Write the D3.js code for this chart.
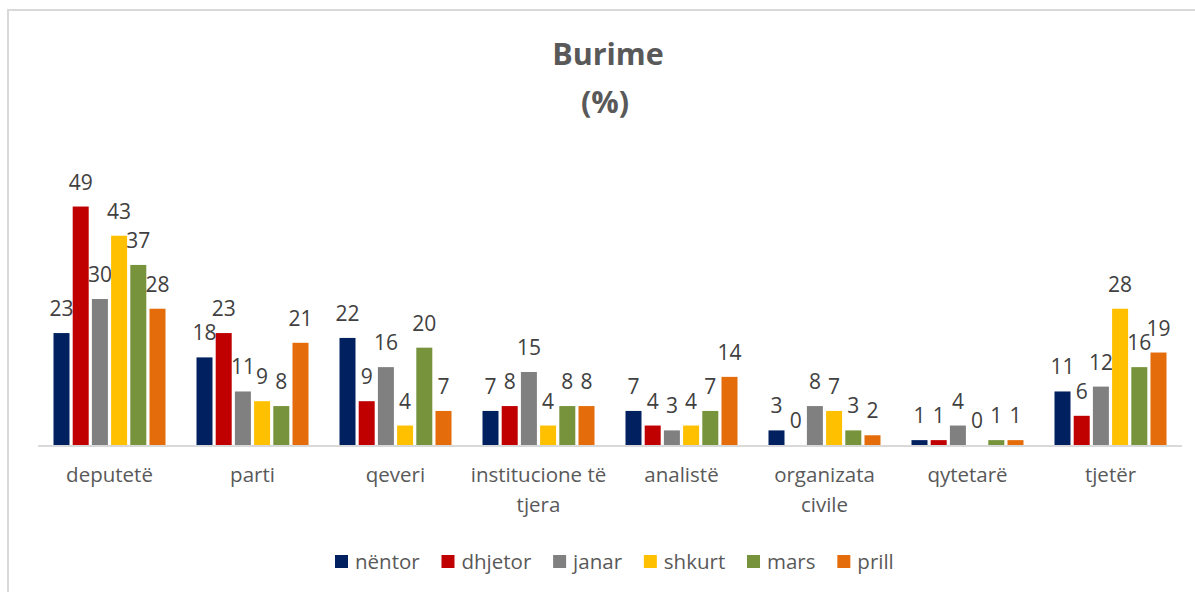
<!DOCTYPE html>
<html>
<head>
<meta charset="utf-8">
<script src="https://cdn.jsdelivr.net/npm/d3@7"></script>
<style>
  html, body { margin: 0; padding: 0; background: #fff; }
  svg { display: block; }
  text { font-family: "Open Sans", sans-serif; }
</style>
</head>
<body>
<svg id="chart" width="1195" height="592"></svg>
<script>
const categories = ["deputetë", "parti", "qeveri", "institucione të tjera", "analistë", "organizata civile", "qytetarë", "tjetër"];
const categoryLines = [["deputetë"], ["parti"], ["qeveri"], ["institucione të", "tjera"], ["analistë"], ["organizata", "civile"], ["qytetarë"], ["tjetër"]];
const seriesNames = ["nëntor", "dhjetor", "janar", "shkurt", "mars", "prill"];
const seriesColors = ["#002060", "#C00000", "#808080", "#FFC000", "#77933C", "#E46C0A"];
const nentor  = [23, 18, 22, 7, 7, 3, 1, 11];
const dhjetor = [49, 23, 9, 8, 4, 0, 1, 6];
const janar   = [30, 11, 16, 15, 3, 8, 4, 12];
const shkurt  = [43, 9, 4, 4, 4, 7, 0, 28];
const mars    = [37, 8, 20, 8, 7, 3, 1, 16];
const prill   = [28, 21, 7, 8, 14, 2, 1, 19];
const seriesValues = [nentor, dhjetor, janar, shkurt, mars, prill];

(function() {
const svg = d3.select("#chart");

// outer border
svg.append("rect").attr("x", 8).attr("y", 10).attr("width", 1300).attr("height", 700)
  .attr("fill", "none").attr("stroke", "#D9D9D9").attr("stroke-width", 2);

// title
const title = svg.append("text").attr("text-anchor", "middle").attr("fill", "#595959")
  .attr("font-weight", "bold").attr("font-size", 30.5);
title.append("tspan").attr("x", 608).attr("y", 65).text("Burime");
title.append("tspan").attr("x", 605).attr("y", 113).text("(%)");

const plotLeft = 38, plotRight = 1182, base = 445, plotTop = 153;
const x0 = d3.scaleBand().domain(categories).range([plotLeft, plotRight]).padding(0);
const groupW = 112;
const x1 = d3.scaleBand().domain(seriesNames).range([0, groupW]).paddingInner(0.1667).paddingOuter(0);
const y = d3.scaleLinear().domain([0, 60]).range([base, plotTop]);
const off = (x0.bandwidth() - groupW) / 2;

const groups = svg.append("g").selectAll("g").data(categories).join("g")
  .attr("transform", c => `translate(${x0(c) + off},0)`);

groups.each(function(c, ci) {
  const g = d3.select(this);
  seriesNames.forEach((s, si) => {
    const v = seriesValues[si][ci];
    g.append("rect")
      .attr("x", x1(s)).attr("width", x1.bandwidth())
      .attr("y", y(v)).attr("height", base - y(v))
      .attr("fill", seriesColors[si]);
    g.append("text")
      .attr("x", x1(s) + x1.bandwidth() / 2).attr("y", y(v) - 17)
      .attr("text-anchor", "middle").attr("font-size", 21).attr("fill", "#404040")
      .text(v);
  });
});

// axis baseline
svg.append("line").attr("x1", plotLeft).attr("x2", plotRight).attr("y1", 446).attr("y2", 446)
  .attr("stroke", "#D9D9D9").attr("stroke-width", 2);

// category labels
const catG = svg.append("g");
categories.forEach((c, i) => {
  const t = catG.append("text").attr("text-anchor", "middle").attr("font-size", 20.5).attr("fill", "#595959");
  categoryLines[i].forEach((ln, li) => {
    t.append("tspan").attr("x", x0(c) + x0.bandwidth() / 2).attr("y", 482 + li * 30).text(ln);
  });
});

// legend
const legend = svg.append("g");
let lx = 335;
seriesNames.forEach((s, i) => {
  legend.append("rect").attr("x", lx).attr("y", 555).attr("width", 13).attr("height", 13).attr("fill", seriesColors[i]);
  const t = legend.append("text").attr("x", lx + 20).attr("y", 569).attr("font-size", 20.5).attr("fill", "#595959").text(s);
  const w = t.node().getComputedTextLength();
  lx += 20 + w + 21.8;
});
})();
</script>
</body>
</html>
